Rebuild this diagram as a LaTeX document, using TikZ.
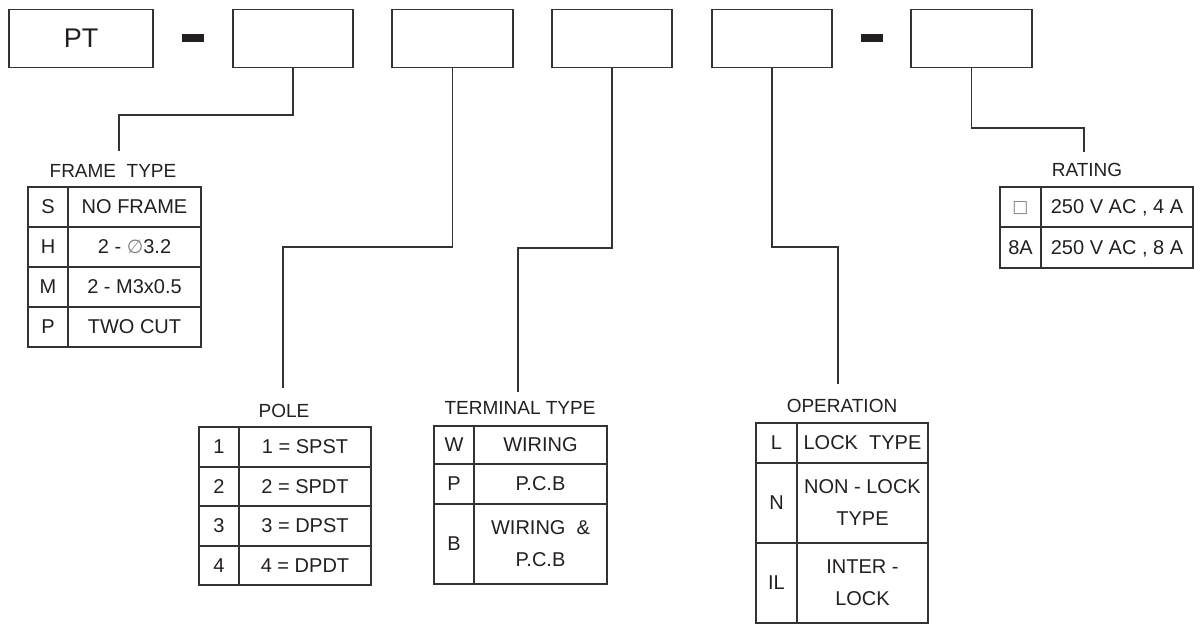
\documentclass[tikz,border=0pt]{standalone}
\usepackage{fontspec}
\setmainfont{Liberation Sans}
\newfontfamily\symfont{DejaVu Sans}
\definecolor{ink}{HTML}{231F20}
\definecolor{edge}{HTML}{333333}
\newcommand\tcell[7][]{\node[cell,#1,minimum width={(#4-#2)*1pt},minimum height={(#5-#3)*1pt}] (#6) at ({(#2+#4)/2},{(#3+#5)/2}) {#7};}
\begin{document}
\begin{tikzpicture}[x=1pt,y=-1pt,
  codebox/.style={draw=edge,line width=1.3pt,inner sep=0pt,minimum height=58pt},
  dashbar/.style={fill=ink,inner sep=0pt,minimum width=22pt,minimum height=8pt},
  cell/.style={draw=edge,line width=1.2pt,inner sep=0pt,text=ink,font=\fontsize{20}{32}\selectfont,text depth=0pt},
  twoline/.style={align=center,text depth=},
  grouplabel/.style={text=ink,inner sep=0pt,font=\fontsize{19}{23}\selectfont},
  link/.style={draw=edge,line width=1.2pt}]
\useasboundingbox (0,0) rectangle (1194,624);
% code boxes
\node[codebox,minimum width=144pt,text=ink,font=\fontsize{27}{30}\selectfont] (b1) at (81,38.3) {PT};
\node[dashbar] (d1) at (193,38) {};
\node[codebox,minimum width=120pt] (b2) at (293,38.3) {};
\node[codebox,minimum width=121pt] (b3) at (452.5,38.3) {};
\node[codebox,minimum width=120pt] (b4) at (612,38.3) {};
\node[codebox,minimum width=120pt] (b5) at (772,38.3) {};
\node[dashbar] (d2) at (872,38) {};
\node[codebox,minimum width=121pt] (b6) at (971.5,38.3) {};
% group labels
\node[grouplabel] (lframe) at (113,170.5) {FRAME\ \ TYPE};
\node[grouplabel] (lpole) at (284,411) {POLE};
\node[grouplabel] (lterm) at (520,408) {TERMINAL TYPE};
\node[grouplabel] (loper) at (842,406) {OPERATION};
\node[grouplabel] (lrate) at (1087,170) {RATING};
% connector ends
\coordinate (e2) at (119,151);
\coordinate (e3) at (283,388);
\coordinate (e4) at (518,392);
\coordinate (e5) at (838,384);
\coordinate (e6) at (1084,152);
\draw[link] (b2.south) -- ++(0,47) -| (e2);
\draw[link] (b3.south) -- ++(0,179) -| (e3);
\draw[link] (b4.south) -- ++(0,180) -| (e4);
\draw[link] (b5.south) -- ++(0,179) -| (e5);
\draw[link] (b6.south) -- ++(0,60) -| (e6);
% FRAME TYPE table
\tcell{28}{187}{68}{227}{f1a}{S}
\tcell{68}{187}{201}{227}{f1b}{NO FRAME}
\tcell{28}{227}{68}{267}{f2a}{H}
\tcell{68}{227}{201}{267}{f2b}{2 - \smash{{\symfont\color{gray}\fontsize{19}{20}\selectfont ∅}}3.2}
\tcell{28}{267}{68}{307}{f3a}{M}
\tcell{68}{267}{201}{307}{f3b}{2 - M3x0.5}
\tcell{28}{307}{68}{347}{f4a}{P}
\tcell{68}{307}{201}{347}{f4b}{TWO CUT}
% POLE table
\tcell{199}{427}{239}{467}{p1a}{1}
\tcell{239}{427}{371}{467}{p1b}{1 = SPST}
\tcell{199}{467}{239}{506}{p2a}{2}
\tcell{239}{467}{371}{506}{p2b}{2 = SPDT}
\tcell{199}{506}{239}{546}{p3a}{3}
\tcell{239}{506}{371}{546}{p3b}{3 = DPST}
\tcell{199}{546}{239}{585}{p4a}{4}
\tcell{239}{546}{371}{585}{p4b}{4 = DPDT}
% TERMINAL TYPE table
\tcell{434}{426}{474}{464}{t1a}{W}
\tcell{474}{426}{607}{464}{t1b}{WIRING}
\tcell{434}{464}{474}{504}{t2a}{P}
\tcell{474}{464}{607}{504}{t2b}{P.C.B}
\tcell{434}{504}{474}{584}{t3a}{B}
\tcell[twoline]{474}{504}{607}{584}{t3b}{WIRING\ \ \&\\P.C.B}
% OPERATION table
\tcell{756}{423}{797}{463}{o1a}{L}
\tcell{797}{423}{928}{463}{o1b}{LOCK\ \ TYPE}
\tcell{756}{463}{797}{543}{o2a}{N}
\tcell[twoline]{797}{463}{928}{543}{o2b}{NON - LOCK\\TYPE}
\tcell{756}{543}{797}{623}{o3a}{IL}
\tcell[twoline]{797}{543}{928}{623}{o3b}{INTER -\\LOCK}
% RATING table
\tcell{1000}{187}{1041}{227}{r1a}{{\symfont\color{gray}\fontsize{17}{18}\selectfont □}}
\tcell{1041}{187}{1193}{227}{r1b}{250 V AC , 4 A}
\tcell{1000}{227}{1041}{268}{r2a}{8A}
\tcell{1041}{227}{1193}{268}{r2b}{250 V AC , 8 A}
\end{tikzpicture}
\end{document}
